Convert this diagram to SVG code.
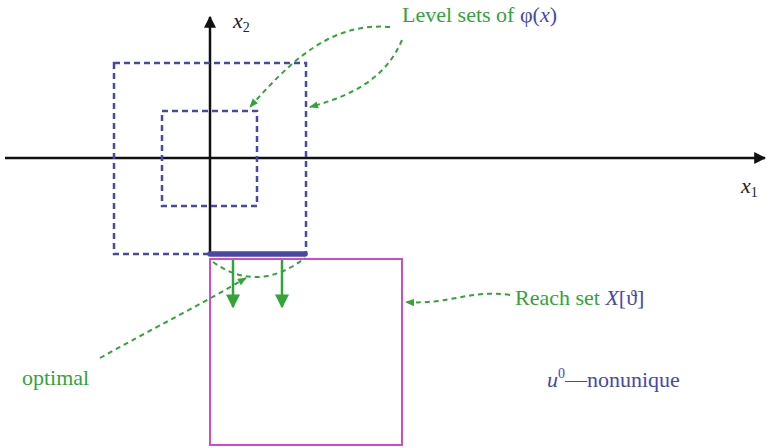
<svg xmlns="http://www.w3.org/2000/svg" width="767" height="448" viewBox="0 0 767 448">
<style>
.axis{stroke:#111;stroke-width:2.5;fill:none}
.lvl{stroke:#4848aa;stroke-width:2.5;fill:none;stroke-dasharray:6 4}
.ptr{stroke:#33a33a;stroke-width:2;fill:none;stroke-dasharray:5 4}
text{font-family:"Liberation Serif","DejaVu Serif","Times New Roman",serif;font-size:22px}
.green{fill:#33a33a}
.blue{fill:#4848aa}
.dark{fill:#222}
</style>
<defs>
<marker id="ah" viewBox="0 0 10 10" refX="9" refY="5" markerWidth="12" markerHeight="12" markerUnits="userSpaceOnUse" orient="auto">
<path d="M0,0 L10,5 L0,10 z" fill="#111"/>
</marker>
<marker id="gh" viewBox="0 0 10 10" refX="9" refY="5" markerWidth="9" markerHeight="9" markerUnits="userSpaceOnUse" orient="auto">
<path d="M0,1 L10,5 L0,9 z" fill="#33a33a"/>
</marker>
<marker id="gb" viewBox="0 0 10 10" refX="9" refY="5" markerWidth="14" markerHeight="14" markerUnits="userSpaceOnUse" orient="auto">
<path d="M0,0 L10,5 L0,10 z" fill="#33a33a"/>
</marker>
</defs>
<rect width="767" height="448" fill="#fff"/>
<g id="axes">
<line class="axis" x1="5" y1="158" x2="765" y2="158" marker-end="url(#ah)"/>
<line class="axis" x1="210" y1="254" x2="210" y2="17" marker-end="url(#ah)"/>
<text class="dark" x="233" y="28" font-family="Liberation Serif, serif"><tspan font-style="italic">x</tspan><tspan font-size="14" dy="4">2</tspan></text>
<text class="dark" x="741" y="193" font-family="Liberation Serif, serif"><tspan font-style="italic">x</tspan><tspan font-size="14" dy="4">1</tspan></text>
</g>
<g id="level-outer"><rect class="lvl" x="114" y="63" width="192" height="191"/></g>
<g id="level-inner"><rect class="lvl" x="162" y="111" width="95" height="95"/></g>
<g id="reach-set"><rect x="210" y="259" width="192" height="186" fill="none" stroke="#cc4ccc" stroke-width="2"/></g>
<g id="optimal-bar"><line x1="210" y1="254" x2="305" y2="254" stroke="#4848aa" stroke-width="5.5" stroke-linecap="round"/></g>
<g id="connectors">
<path class="ptr" d="M390,27 C330,22 290,62 250,107" marker-end="url(#gh)"/>
<path class="ptr" d="M402,40 C385,80 350,96 310,107" marker-end="url(#gh)"/>
<path class="ptr" d="M510,295 C470,289 450,305 406,302" marker-end="url(#gh)"/>
<path class="ptr" d="M100,358 C150,330 200,305 246,278" marker-end="url(#gh)"/>
<path class="ptr" d="M213,262 Q258,294 305,258"/>
<line x1="233" y1="260" x2="233" y2="307" stroke="#33a33a" stroke-width="2.5" marker-end="url(#gb)"/>
<line x1="282" y1="260" x2="282" y2="307" stroke="#33a33a" stroke-width="2.5" marker-end="url(#gb)"/>
</g>
<g id="labels" font-family="Liberation Serif, serif">
<text class="green" x="402" y="22">Level sets of <tspan class="blue">φ(</tspan><tspan class="blue" font-style="italic">x</tspan><tspan class="blue">)</tspan></text>
<text class="green" x="515" y="305">Reach set <tspan class="blue" font-style="italic">X</tspan><tspan class="blue">[ϑ]</tspan></text>
<text class="green" x="22" y="385">optimal</text>
<text class="blue" x="547" y="387"><tspan font-style="italic">u</tspan><tspan font-size="14" dy="-9">0</tspan><tspan dy="9">—nonunique</tspan></text>
</g>
</svg>
